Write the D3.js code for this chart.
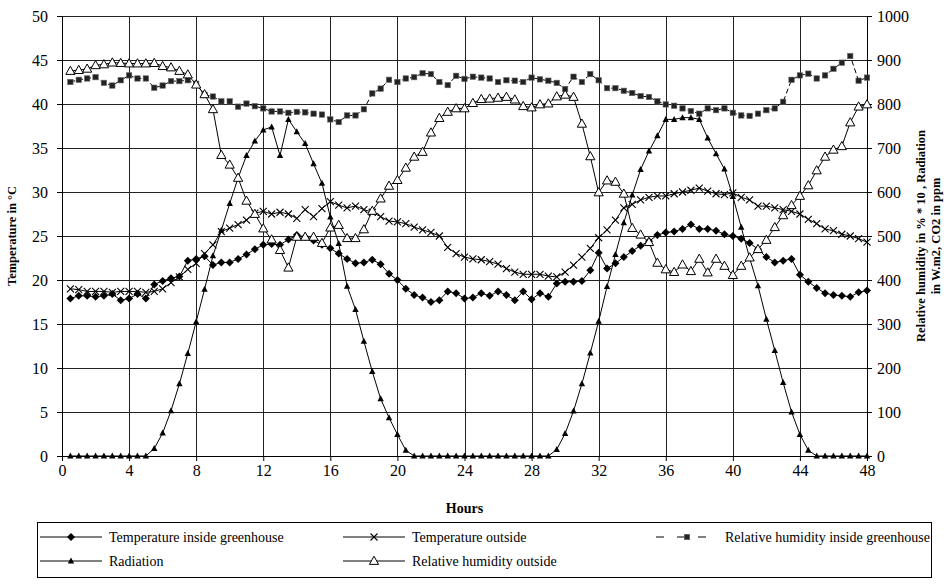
<!DOCTYPE html>
<html>
<head>
<meta charset="utf-8">
<script src="https://cdn.jsdelivr.net/npm/d3@7"></script>
<style>
  body { margin: 0; background: #fff; }
  svg { font-family: "Liberation Serif", "Times New Roman", serif; }
</style>
</head>
<body>
<div id="chart_div"></div>
<script>
// half-hour readings, 0.5 .. 48 h
const hours = d3.range(1, 97).map(i => i / 2);

const tempInside = [
  17.9, 18.2, 18.2, 18.1, 18.2, 18.4, 17.7, 17.9, 18.4, 17.9,
  19.5, 19.9, 20.2, 20.4, 22.2, 22.4, 22.7, 21.7, 22.0, 22.0,
  22.4, 22.9, 23.5, 24.0, 24.1, 24.0, 24.6, 25.1, 24.9, 24.5,
  24.0, 23.6, 23.0, 22.4, 21.9, 22.0, 22.3, 21.8, 20.7, 20.0,
  19.0, 18.3, 18.0, 17.5, 17.7, 18.7, 18.5, 17.9, 18.0, 18.5,
  18.2, 18.7, 18.3, 17.7, 18.7, 17.8, 18.5, 18.1, 19.6, 19.8,
  19.8, 19.9, 21.1, 23.1, 21.3, 21.9, 22.6, 23.3, 23.9, 24.4,
  25.1, 25.4, 25.5, 25.8, 26.3, 25.8, 25.8, 25.6, 25.2, 25.0,
  24.7, 24.2, 23.5, 22.6, 22.0, 22.2, 22.4, 20.6, 19.8, 19.1,
  18.5, 18.3, 18.2, 18.1, 18.6, 18.8
];

const tempOutside = [
  19.0, 18.9, 18.7, 18.7, 18.7, 18.6, 18.7, 18.7, 18.7, 18.6,
  18.7, 19.0, 19.7, 20.35, 21.2, 21.9, 23.0, 24.0, 25.5, 25.9,
  26.3, 26.8, 27.6, 27.8, 27.5, 27.7, 27.5, 27.0, 28.0, 27.2,
  28.1, 28.9, 28.5, 28.2, 28.4, 28.0, 27.7, 27.2, 26.7, 26.6,
  26.4, 26.0, 25.7, 25.4, 25.0, 23.7, 23.0, 22.6, 22.4, 22.3,
  22.1, 21.8, 21.3, 20.9, 20.65, 20.65, 20.65, 20.45, 20.35, 20.9,
  21.7, 22.6, 23.6, 24.8, 25.7, 26.8, 28.2, 28.6, 29.1, 29.4,
  29.55, 29.55, 29.8, 30.0, 30.2, 30.45, 30.1, 29.8, 29.7, 29.9,
  29.4, 29.1, 28.4, 28.4, 28.2, 28.0, 27.8, 27.5, 26.9, 26.4,
  25.8, 25.6, 25.2, 25.0, 24.7, 24.3
];

const rhInside = [
  850, 855, 858, 861, 848, 842, 854, 865, 858, 858,
  837, 842, 852, 852, 854, 846, 821, 817, 806, 806,
  794, 801, 795, 790, 783, 783, 780, 782, 781, 778,
  776, 765, 759, 774, 774, 788, 824, 835, 855, 850,
  858, 861, 870, 868, 850, 843, 864, 857, 862, 860,
  858, 850, 854, 853, 850, 860, 856, 853, 848, 834,
  862, 850, 868, 854, 836, 836, 830, 825, 818, 816,
  806, 799, 796, 790, 784, 778, 790, 786, 790, 780,
  774, 773, 778, 786, 790, 805, 855, 865, 869, 858,
  865, 880, 894, 909, 853, 860
];

const radiation = [
  0, 0, 0, 0, 0, 0, 0, 0, 0, 0,
  17, 52, 103, 164, 233, 305, 379, 455, 513, 574,
  632, 683, 716, 741, 748, 683, 765, 737, 710, 664,
  620, 543, 483, 386, 333, 261, 192, 130, 87, 49,
  13, 0, 0, 0, 0, 0, 0, 0, 0, 0,
  0, 0, 0, 0, 0, 0, 0, 0, 15, 51,
  102, 164, 234, 306, 385, 458, 530, 593, 651, 693,
  728, 765, 765, 769, 769, 765, 723, 687, 652, 590,
  520, 450, 387, 311, 240, 167, 100, 49, 13, 0,
  0, 0, 0, 0, 0, 0
];

const rhOutside = [
  875, 877, 880, 888, 890, 894, 893, 892, 892, 892,
  893, 886, 883, 875, 867, 844, 822, 788, 684, 662,
  632, 580, 550, 517, 492, 468, 428, 498, 498, 498,
  484, 519, 525, 495, 495, 515, 557, 585, 614, 627,
  655, 680, 691, 735, 768, 782, 790, 790, 802, 811,
  812, 814, 816, 810, 795, 792, 799, 801, 817, 821,
  816, 755, 681, 599, 626, 623, 596, 518, 503, 486,
  439, 424, 418, 435, 420, 448, 417, 448, 432, 411,
  432, 451, 470, 491, 520, 547, 570, 591, 615, 649,
  680, 696, 704, 758, 794, 799
];

const xTicks = d3.range(0, 49, 4);
const leftTicks = d3.range(0, 51, 5);
const rightTicks = d3.range(0, 1001, 100);

const margin = {top: 16, right: 79, bottom: 130, left: 62};
const svgWidth = 946 - margin.left - margin.right;
const svgHeight = 586 - margin.top - margin.bottom;

const svg = d3.select("#chart_div")
    .append("svg")
    .attr("width", 946)
    .attr("height", 586);

const g = svg.append("g")
    .attr("transform", "translate(" + margin.left + "," + margin.top + ")");

let xScale = d3.scaleLinear().domain([0, 48]).range([0, svgWidth]);
let yLeft = d3.scaleLinear().domain([0, 50]).range([svgHeight, 0]);
let yRight = d3.scaleLinear().domain([0, 1000]).range([svgHeight, 0]);

// grid
g.append("g")
    .selectAll("line.h")
    .data(leftTicks)
    .join("line")
    .attr("x1", 0).attr("x2", svgWidth)
    .attr("y1", d => Math.round(yLeft(d)) + 0.5)
    .attr("y2", d => Math.round(yLeft(d)) + 0.5)
    .attr("stroke", "#222").attr("stroke-width", 1);

g.append("g")
    .selectAll("line.v")
    .data(xTicks)
    .join("line")
    .attr("x1", d => Math.round(xScale(d)) + 0.5)
    .attr("x2", d => Math.round(xScale(d)) + 0.5)
    .attr("y1", 0).attr("y2", svgHeight)
    .attr("stroke", "#222").attr("stroke-width", 1);

// axes
function styleAxis(sel) {
    sel.selectAll("path").attr("stroke", "#000");
    sel.selectAll("line").attr("stroke", "#000");
    sel.selectAll("text")
        .attr("fill", "#000")
        .style("font-size", "16px")
        .style("font-family", "'Liberation Serif', serif");
}

g.append("g")
    .attr("transform", "translate(0," + svgHeight + ")")
    .call(d3.axisBottom(xScale).tickValues(xTicks).tickSize(5).tickSizeOuter(0).tickPadding(4))
    .call(styleAxis);

g.append("g")
    .call(d3.axisLeft(yLeft).tickValues(leftTicks).tickSize(5).tickSizeOuter(0).tickPadding(9))
    .call(styleAxis);

g.append("g")
    .attr("transform", "translate(" + svgWidth + ",0)")
    .call(d3.axisRight(yRight).tickValues(rightTicks).tickFormat(d3.format("d"))
        .tickSize(5).tickSizeOuter(0).tickPadding(5))
    .call(styleAxis);

// markers
const markers = {
    diamond: (s, x, y) => s.append("path")
        .attr("d", `M${x},${y - 4}L${x + 4},${y}L${x},${y + 4}L${x - 4},${y}Z`)
        .attr("fill", "#000"),
    cross: (s, x, y) => s.append("path")
        .attr("d", `M${x - 3.5},${y - 3.5}L${x + 3.5},${y + 3.5}M${x - 3.5},${y + 3.5}L${x + 3.5},${y - 3.5}`)
        .attr("stroke", "#000").attr("stroke-width", 1.1).attr("fill", "none"),
    square: (s, x, y) => s.append("rect")
        .attr("x", x - 2.7).attr("y", y - 2.7).attr("width", 5.4).attr("height", 5.4)
        .attr("fill", "#222").attr("stroke", "#666").attr("stroke-width", 0.6),
    triangle: (s, x, y) => s.append("path")
        .attr("d", `M${x},${y - 3.5}L${x + 3.2},${y + 2.5}L${x - 3.2},${y + 2.5}Z`)
        .attr("fill", "#000"),
    openTriangle: (s, x, y) => s.append("path")
        .attr("d", `M${x},${y - 4.8}L${x + 4.6},${y + 3.4}L${x - 4.6},${y + 3.4}Z`)
        .attr("fill", "#fff").attr("stroke", "#000").attr("stroke-width", 1)
};

const series = [
    {name: "Temperature inside greenhouse", values: tempInside, scale: yLeft, marker: "diamond", dash: null},
    {name: "Temperature outside", values: tempOutside, scale: yLeft, marker: "cross", dash: null},
    {name: "Relative humidity inside greenhouse", values: rhInside, scale: yRight, marker: "square", dash: "5,3"},
    {name: "Radiation", values: radiation, scale: yRight, marker: "triangle", dash: null},
    {name: "Relative humidity outside", values: rhOutside, scale: yRight, marker: "openTriangle", dash: null}
];

series.forEach(s => {
    const pts = hours.map((h, i) => [xScale(h), s.scale(s.values[i])]);
    g.append("path")
        .datum(pts)
        .attr("fill", "none")
        .attr("stroke", "#000")
        .attr("stroke-width", 1)
        .attr("stroke-dasharray", s.dash)
        .attr("d", d3.line());
    const mg = g.append("g");
    pts.forEach(p => markers[s.marker](mg, p[0], p[1]));
});

// titles
svg.append("text")
    .attr("transform", "translate(16," + (margin.top + svgHeight / 2) + ") rotate(-90)")
    .attr("text-anchor", "middle")
    .style("font-size", "12.5px").style("font-weight", "bold")
    .text("Temperature in °C");

svg.append("text")
    .attr("x", margin.left + svgWidth / 2).attr("y", 513)
    .attr("text-anchor", "middle")
    .style("font-size", "14px").style("font-weight", "bold")
    .text("Hours");

const rt = svg.append("text")
    .attr("transform", "translate(925," + (margin.top + svgHeight / 2) + ") rotate(-90)")
    .attr("text-anchor", "middle")
    .style("font-size", "12.5px").style("font-weight", "bold");
rt.append("tspan").attr("x", 0).attr("dy", 0).text("Relative humidity in % * 10 , Radiation");
rt.append("tspan").attr("x", 0).attr("dy", 15).text("in W.m2, CO2 in ppm");

// legend
const legend = svg.append("g");
legend.append("rect")
    .attr("x", 37.5).attr("y", 522.5).attr("width", 894).attr("height", 55)
    .attr("fill", "#fff").attr("stroke", "#000").attr("stroke-width", 1);

const legendPos = [
    {x: 40, y: 537}, {x: 343, y: 537}, {x: 656, y: 537},
    {x: 40, y: 561}, {x: 343, y: 561}
];

series.forEach((s, i) => {
    const p = legendPos[i];
    legend.append("line")
        .attr("x1", p.x).attr("x2", p.x + 62)
        .attr("y1", p.y).attr("y2", p.y)
        .attr("stroke", "#000").attr("stroke-width", 1)
        .attr("stroke-dasharray", s.dash ? "8,13" : null);
    markers[s.marker](legend, p.x + 31, p.y);
    legend.append("text")
        .attr("x", p.x + 69).attr("y", p.y + 5)
        .style("font-size", "14px")
        .text(s.name);
});
</script>
</body>
</html>
